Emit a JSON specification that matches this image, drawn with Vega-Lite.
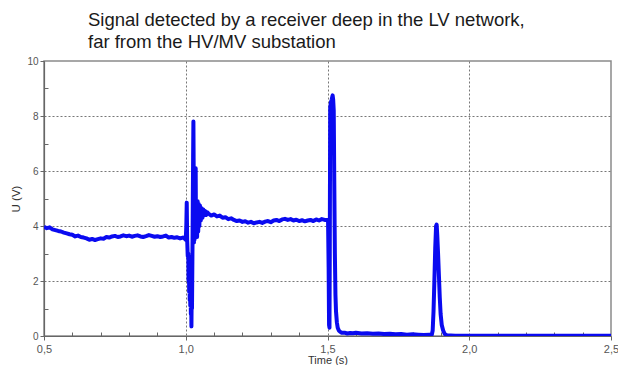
{
  "$schema": "https://vega.github.io/schema/vega-lite/v6.json",
  "width": 567,
  "height": 275,
  "autosize": {"type": "none"},
  "padding": {"left": 44, "top": 61, "right": 7, "bottom": 29},
  "background": "white",
  "config": {
    "view": {"stroke": "#8a8a8a", "strokeWidth": 1.5},
    "font": "Liberation Sans"
  },
  "title": {
    "text": ["Signal detected by a receiver deep in the LV network,", "far from the HV/MV substation"],
    "anchor": "start",
    "frame": "group",
    "dx": 44,
    "dy": 22,
    "offset": 8,
    "fontSize": 18.5,
    "fontWeight": "normal",
    "font": "Liberation Sans",
    "color": "#1a1a1a",
    "lineHeight": 22,
    "baseline": "bottom"
  },
  "data": {
    "values": [
      {"t": 0.50, "u": 3.97}, {"t": 0.51, "u": 3.92}, {"t": 0.52, "u": 3.95}, {"t": 0.53, "u": 3.88},
      {"t": 0.54, "u": 3.85}, {"t": 0.55, "u": 3.82}, {"t": 0.56, "u": 3.80}, {"t": 0.57, "u": 3.76},
      {"t": 0.58, "u": 3.73}, {"t": 0.59, "u": 3.70}, {"t": 0.60, "u": 3.68}, {"t": 0.61, "u": 3.62},
      {"t": 0.62, "u": 3.65}, {"t": 0.63, "u": 3.60}, {"t": 0.64, "u": 3.58}, {"t": 0.65, "u": 3.55},
      {"t": 0.66, "u": 3.50}, {"t": 0.67, "u": 3.53}, {"t": 0.68, "u": 3.49}, {"t": 0.69, "u": 3.52},
      {"t": 0.70, "u": 3.55}, {"t": 0.71, "u": 3.54}, {"t": 0.72, "u": 3.60}, {"t": 0.73, "u": 3.58},
      {"t": 0.74, "u": 3.62}, {"t": 0.75, "u": 3.64}, {"t": 0.76, "u": 3.60}, {"t": 0.77, "u": 3.62},
      {"t": 0.78, "u": 3.66}, {"t": 0.79, "u": 3.63}, {"t": 0.80, "u": 3.65}, {"t": 0.81, "u": 3.61},
      {"t": 0.82, "u": 3.64}, {"t": 0.83, "u": 3.66}, {"t": 0.84, "u": 3.62}, {"t": 0.85, "u": 3.60},
      {"t": 0.86, "u": 3.63}, {"t": 0.87, "u": 3.67}, {"t": 0.88, "u": 3.64}, {"t": 0.89, "u": 3.61},
      {"t": 0.90, "u": 3.63}, {"t": 0.91, "u": 3.60}, {"t": 0.92, "u": 3.62}, {"t": 0.93, "u": 3.65},
      {"t": 0.94, "u": 3.58}, {"t": 0.95, "u": 3.60}, {"t": 0.96, "u": 3.57}, {"t": 0.97, "u": 3.59},
      {"t": 0.98, "u": 3.55}, {"t": 0.99, "u": 3.58}, {"t": 0.995, "u": 3.55},
      {"t": 1.000, "u": 3.5}, {"t": 1.002, "u": 4.0}, {"t": 1.0035, "u": 4.85}, {"t": 1.005, "u": 3.5},
      {"t": 1.007, "u": 2.9}, {"t": 1.009, "u": 3.0}, {"t": 1.010, "u": 2.0}, {"t": 1.011, "u": 2.9},
      {"t": 1.012, "u": 1.6}, {"t": 1.013, "u": 2.7}, {"t": 1.014, "u": 1.3}, {"t": 1.015, "u": 2.5},
      {"t": 1.016, "u": 1.1}, {"t": 1.017, "u": 2.2}, {"t": 1.018, "u": 0.8}, {"t": 1.019, "u": 1.8},
      {"t": 1.020, "u": 0.35}, {"t": 1.021, "u": 1.5}, {"t": 1.022, "u": 1.0}, {"t": 1.024, "u": 3.5},
      {"t": 1.026, "u": 6.5}, {"t": 1.027, "u": 7.8}, {"t": 1.028, "u": 6.0}, {"t": 1.029, "u": 3.4},
      {"t": 1.030, "u": 5.0}, {"t": 1.031, "u": 3.5}, {"t": 1.033, "u": 5.5}, {"t": 1.035, "u": 6.1},
      {"t": 1.036, "u": 4.0}, {"t": 1.038, "u": 4.9}, {"t": 1.040, "u": 3.6}, {"t": 1.042, "u": 4.9},
      {"t": 1.044, "u": 3.8}, {"t": 1.046, "u": 4.8}, {"t": 1.048, "u": 4.0}, {"t": 1.050, "u": 4.75},
      {"t": 1.053, "u": 4.2}, {"t": 1.056, "u": 4.65}, {"t": 1.059, "u": 4.3}, {"t": 1.062, "u": 4.6},
      {"t": 1.065, "u": 4.4}, {"t": 1.068, "u": 4.55}, {"t": 1.072, "u": 4.4}, {"t": 1.076, "u": 4.5},
      {"t": 1.08, "u": 4.45}, {"t": 1.09, "u": 4.38}, {"t": 1.10, "u": 4.42}, {"t": 1.11, "u": 4.35},
      {"t": 1.12, "u": 4.38}, {"t": 1.13, "u": 4.30}, {"t": 1.14, "u": 4.32}, {"t": 1.15, "u": 4.25},
      {"t": 1.16, "u": 4.28}, {"t": 1.17, "u": 4.22}, {"t": 1.18, "u": 4.18}, {"t": 1.19, "u": 4.20},
      {"t": 1.20, "u": 4.15}, {"t": 1.21, "u": 4.17}, {"t": 1.22, "u": 4.12}, {"t": 1.23, "u": 4.15},
      {"t": 1.24, "u": 4.10}, {"t": 1.25, "u": 4.13}, {"t": 1.26, "u": 4.15}, {"t": 1.27, "u": 4.11},
      {"t": 1.28, "u": 4.16}, {"t": 1.29, "u": 4.18}, {"t": 1.30, "u": 4.14}, {"t": 1.31, "u": 4.20},
      {"t": 1.32, "u": 4.22}, {"t": 1.33, "u": 4.18}, {"t": 1.34, "u": 4.24}, {"t": 1.35, "u": 4.26},
      {"t": 1.36, "u": 4.22}, {"t": 1.37, "u": 4.25}, {"t": 1.38, "u": 4.20}, {"t": 1.39, "u": 4.23},
      {"t": 1.40, "u": 4.18}, {"t": 1.41, "u": 4.21}, {"t": 1.42, "u": 4.17}, {"t": 1.43, "u": 4.20},
      {"t": 1.44, "u": 4.22}, {"t": 1.45, "u": 4.18}, {"t": 1.46, "u": 4.24}, {"t": 1.47, "u": 4.20},
      {"t": 1.48, "u": 4.25}, {"t": 1.49, "u": 4.22}, {"t": 1.500, "u": 4.22}, {"t": 1.502, "u": 4.15},
      {"t": 1.504, "u": 2.5}, {"t": 1.5055, "u": 0.4}, {"t": 1.507, "u": 0.3}, {"t": 1.508, "u": 3.0},
      {"t": 1.5095, "u": 8.3}, {"t": 1.512, "u": 8.5}, {"t": 1.515, "u": 8.6}, {"t": 1.518, "u": 8.75},
      {"t": 1.520, "u": 8.6}, {"t": 1.522, "u": 8.2}, {"t": 1.524, "u": 5.5}, {"t": 1.526, "u": 3.0},
      {"t": 1.528, "u": 1.5}, {"t": 1.530, "u": 0.9}, {"t": 1.533, "u": 0.5}, {"t": 1.536, "u": 0.3},
      {"t": 1.540, "u": 0.2}, {"t": 1.545, "u": 0.15}, {"t": 1.55, "u": 0.12}, {"t": 1.56, "u": 0.12},
      {"t": 1.57, "u": 0.09}, {"t": 1.58, "u": 0.11}, {"t": 1.59, "u": 0.10}, {"t": 1.60, "u": 0.12},
      {"t": 1.62, "u": 0.09}, {"t": 1.64, "u": 0.10}, {"t": 1.66, "u": 0.08}, {"t": 1.68, "u": 0.09},
      {"t": 1.70, "u": 0.07}, {"t": 1.72, "u": 0.08}, {"t": 1.74, "u": 0.06}, {"t": 1.76, "u": 0.07},
      {"t": 1.78, "u": 0.05}, {"t": 1.80, "u": 0.06}, {"t": 1.82, "u": 0.05}, {"t": 1.84, "u": 0.04},
      {"t": 1.86, "u": 0.05}, {"t": 1.868, "u": 0.05}, {"t": 1.871, "u": 0.2}, {"t": 1.874, "u": 0.9},
      {"t": 1.877, "u": 2.0}, {"t": 1.880, "u": 3.2}, {"t": 1.883, "u": 4.0}, {"t": 1.885, "u": 4.05},
      {"t": 1.887, "u": 3.7}, {"t": 1.890, "u": 3.0}, {"t": 1.893, "u": 2.2}, {"t": 1.896, "u": 1.4},
      {"t": 1.899, "u": 0.8}, {"t": 1.903, "u": 0.4}, {"t": 1.908, "u": 0.2}, {"t": 1.913, "u": 0.08},
      {"t": 1.92, "u": 0.03}, {"t": 1.95, "u": 0.01}, {"t": 2.0, "u": 0.01}, {"t": 2.1, "u": 0.01},
      {"t": 2.2, "u": 0.01}, {"t": 2.3, "u": 0.01}, {"t": 2.4, "u": 0.01}, {"t": 2.5, "u": 0.01}
    ]
  },
  "mark": {"type": "line", "color": "#0a0af0", "strokeWidth": 4, "strokeJoin": "round", "clip": true},
  "encoding": {
    "x": {
      "field": "t",
      "type": "quantitative",
      "scale": {"domain": [0.5, 2.5], "nice": false, "zero": false},
      "axis": {
        "title": "Time (s)",
        "titleFontSize": 11,
        "titleFontWeight": "normal",
        "titleColor": "#333",
        "titlePadding": 0,
        "values": [0.5, 0.6, 0.7, 0.8, 0.9, 1.0, 1.1, 1.2, 1.3, 1.4, 1.5, 1.6, 1.7, 1.8, 1.9, 2.0, 2.1, 2.2, 2.3, 2.4, 2.5],
        "labelExpr": "round(datum.value*10) % 5 === 0 ? replace(format(datum.value, '.1f'), '.', ',') : ''",
        "labelFontSize": 11,
        "labelColor": "#555",
        "labelPadding": 3,
        "labelFlush": false,
        "domainColor": "#666",
        "domainWidth": 1.2,
        "tickColor": "#666",
        "tickSize": {"condition": {"test": "round(datum.value*10) % 5 === 0", "value": 4}, "value": -4},
        "grid": true,
        "gridColor": "#777",
        "gridDash": [2, 2],
        "gridOpacity": {"condition": {"test": "round(datum.value*10) % 5 === 0 && datum.value > 0.55 && datum.value < 2.45", "value": 1}, "value": 0}
      }
    },
    "y": {
      "field": "u",
      "type": "quantitative",
      "scale": {"domain": [0, 10], "nice": false},
      "axis": {
        "title": "U (V)",
        "titleFontSize": 11.5,
        "titleFontWeight": "normal",
        "titleColor": "#333",
        "titlePadding": 5,
        "values": [0, 1, 2, 3, 4, 5, 6, 7, 8, 9, 10],
        "labelExpr": "datum.value % 2 === 0 ? datum.label : ''",
        "labelFontSize": 10,
        "labelColor": "#555",
        "labelPadding": 2,
        "labelFlush": false,
        "domainColor": "#666",
        "domainWidth": 1.2,
        "tickColor": "#666",
        "tickSize": {"condition": {"test": "datum.value % 2 === 0", "value": 4}, "value": -4},
        "grid": true,
        "gridColor": "#777",
        "gridDash": [2, 2],
        "gridOpacity": {"condition": {"test": "datum.value % 2 === 0 && datum.value > 0 && datum.value < 10", "value": 1}, "value": 0}
      }
    }
  }
}
